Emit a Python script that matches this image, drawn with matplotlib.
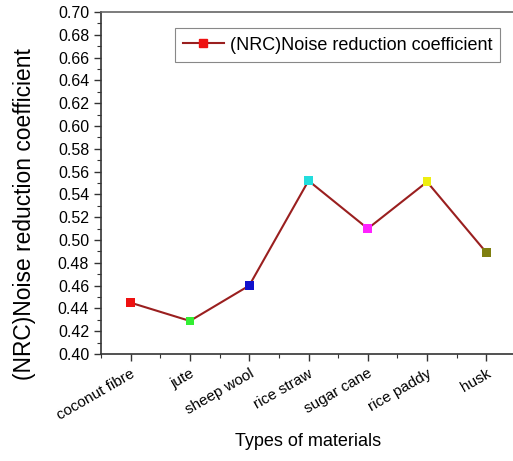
import matplotlib.pyplot as plt
from matplotlib.ticker import MultipleLocator
import numpy as np

plt.rcParams["font.family"] = ["Liberation Sans", "DejaVu Sans"]

materials = ["coconut fibre", "jute", "sheep wool", "rice straw",
             "sugar cane", "rice paddy", "husk"]
nrc = [0.445, 0.429, 0.460, 0.552, 0.510, 0.551, 0.489]
point_colors = ["#ee1111", "#33ee33", "#1111cc", "#22dddd",
                "#ff22ff", "#eeee11", "#7f7f10"]

fig = plt.figure(figsize=(5.13, 4.61), dpi=100)
ax = fig.add_axes([101 / 513, 1 - 354 / 461, 415 / 513, 342 / 461])

x = np.arange(len(materials))
ax.plot(x, nrc, color="#9a1f1f", linewidth=1.5, zorder=2)
ax.scatter(x, nrc, marker="s", s=40, c=point_colors, zorder=3, linewidths=0)

# legend proxy: line with red square
ax.plot([], [], color="#9a1f1f", linewidth=1.5, marker="s", markersize=6,
        markerfacecolor="#ee1111", markeredgecolor="#ee1111",
        label="(NRC)Noise reduction coefficient")
leg = ax.legend(loc="upper right", bbox_to_anchor=(0.962, 0.952),
                fontsize=13, fancybox=False, framealpha=1,
                edgecolor="#888888", handlelength=2.3, borderpad=0.45,
                handletextpad=0.3, borderaxespad=0)
leg.get_frame().set_linewidth(0.8)

ax.set_xlim(-0.5, 6.5)
ax.set_ylim(0.40, 0.70)
ax.set_xticks(x)
ax.set_xticklabels(materials, rotation=30, ha="right", va="top",
                   rotation_mode="anchor", fontsize=11)
ax.xaxis.set_minor_locator(MultipleLocator(0.5))
ax.yaxis.set_major_locator(MultipleLocator(0.02))
ax.yaxis.set_minor_locator(MultipleLocator(0.01))
ax.yaxis.set_major_formatter(plt.FormatStrFormatter("%.2f"))
ax.tick_params(axis="y", labelsize=11.5)
ax.tick_params(which="major", direction="out", length=5, width=1,
               color="#333333")
ax.tick_params(which="minor", direction="out", length=3, width=0.8,
               color="#333333")
ax.tick_params(axis="x", pad=4)

for side in ["left", "bottom"]:
    ax.spines[side].set_color("#333333")
    ax.spines[side].set_linewidth(1.2)
ax.spines["top"].set_color("#666666")
ax.spines["top"].set_linewidth(1.2)
ax.spines["right"].set_visible(False)

ax.set_ylabel("(NRC)Noise reduction coefficient", fontsize=16.4)
ax.yaxis.set_label_coords(-0.157, 0.409)
ax.set_xlabel("Types of materials", fontsize=13, labelpad=8)

fig.savefig("out.png", dpi=100)
